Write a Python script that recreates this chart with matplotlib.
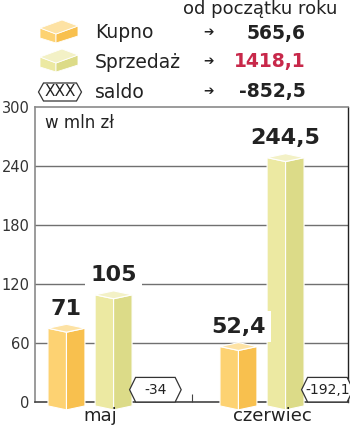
import matplotlib.pyplot as plt
from matplotlib.patches import Polygon

months = ['maj', 'czerwiec']
kupno = [71, 52.4]
sprzedaz = [105, 244.5]
saldo = [-34, -192.1]

ytd_names = ['Kupno', 'Sprzedaż', 'saldo']
ytd_values = [565.6, 1418.1, -852.5]

yticks = [0, 60, 120, 180, 240, 300]

KUPNO_COLS = ('#fdd272', '#f8c04e', '#fde2a4')
SPRZ_COLS = ('#ece9a2', '#dcdb88', '#f3f1c6')


def fmt(v):
    return f'{v:g}'.replace('.', ',')


def box(ax, xc, w, v, cols, d=4, b=-8):
    x0, x1 = xc - w / 2, xc + w / 2
    left = [(x0, b + d), (xc, b), (xc, v), (x0, v + d)]
    right = [(xc, b), (x1, b + d), (x1, v + d), (xc, v)]
    top = [(x0, v + d), (xc, v), (x1, v + d), (xc, v + 2 * d)]
    for pts, c in zip([left, right, top], cols):
        ax.add_patch(Polygon(pts, closed=True, facecolor=c, edgecolor='white',
                             lw=0.8, zorder=3, clip_on=False))


def hexbox(ax, xc, yc, w, h, tip, text, size):
    x0, x1 = xc - w / 2, xc + w / 2
    pts = [(x0, yc), (x0 + tip, yc + h / 2), (x1 - tip, yc + h / 2),
           (x1, yc), (x1 - tip, yc - h / 2), (x0 + tip, yc - h / 2)]
    ax.add_patch(Polygon(pts, closed=True, facecolor='white', edgecolor='#333333',
                         lw=0.9, zorder=5, clip_on=False))
    ax.text(xc, yc, text, ha='center', va='center', fontsize=size,
            color='#222222', zorder=6)


fig = plt.figure(figsize=(3.5, 4.26), dpi=100)
ax = fig.add_axes([35 / 350, 1 - 402 / 426, 313 / 350, 295 / 426])
ax.set_xlim(-0.32, 1.5)
ax.set_ylim(0, 300)

for y in yticks[1:-1]:
    ax.axhline(y, color='#707070', lw=1, zorder=1)

for s in ['left', 'top']:
    ax.spines[s].set_color('#8a8a8a')
    ax.spines[s].set_linewidth(1.2)
ax.spines['bottom'].set_color('#444444')
ax.spines['bottom'].set_linewidth(1.2)
ax.spines['right'].set_color('#222222')
ax.spines['right'].set_linewidth(1.0)

ax.set_yticks(yticks)
ax.set_yticklabels([str(t) for t in yticks], fontsize=10.5, color='#333333')
ax.tick_params(axis='y', length=0, pad=4)
ax.set_xticks([0.59])
ax.set_xticklabels([''])
ax.tick_params(axis='x', direction='in', length=6, color='#444444')

w = 0.215
off = 0.137
lbl_box = dict(boxstyle='square,pad=0.25', facecolor='white', edgecolor='none')
for i in range(len(months)):
    for v, dx, cols in [(kupno[i], -off, KUPNO_COLS), (sprzedaz[i], off, SPRZ_COLS)]:
        box(ax, i + dx, w, v, cols)
        ax.text(i + dx, v + 24, fmt(v), ha='center', va='center', fontsize=16,
                fontweight='bold', color='#222222', bbox=lbl_box, zorder=4)
    hexbox(ax, i + 0.38, 12.5, 0.30, 25, 0.035, fmt(saldo[i]), 10)
    ax.text(i + 0.06, -14, months[i], ha='center', va='center', fontsize=13,
            color='#222222')

ax.text(-0.26, 284, 'w mln zł', ha='left', va='center',
        fontsize=12, color='#222222')

# legend in pixel coordinates
lax = fig.add_axes([0, 0, 1, 1])
lax.set_xlim(0, 350)
lax.set_ylim(426, 0)
lax.axis('off')

lax.text(260, 9, 'od początku roku', ha='center', va='center', fontsize=13,
         color='#222222')

rows = [33, 62, 92]
for name, val, y, cols in zip(ytd_names, ytd_values, rows,
                              [KUPNO_COLS, SPRZ_COLS, None]):
    if cols is not None:
        top = [(40, y - 5), (62, y - 13), (78, y - 7), (56, y + 1)]
        left = [(40, y - 5), (56, y + 1), (56, y + 10), (40, y + 5)]
        right = [(56, y + 1), (78, y - 7), (78, y + 3), (56, y + 10)]
        for pts, c in zip([left, right, top], cols):
            lax.add_patch(Polygon(pts, closed=True, facecolor=c,
                                  edgecolor='white', lw=0.6))
    else:
        hexbox(lax, 60, y, 43, 18, 5, 'XXX', 11)
    lax.text(95, y, name, ha='left', va='center', fontsize=13.5, color='#222222')
    lax.text(209, y, '➔', ha='center', va='center', fontsize=9, color='#222222')
    color = '#c8284a' if name == 'Sprzedaż' else '#222222'
    lax.text(306, y, fmt(val), ha='right', va='center', fontsize=13.5,
             fontweight='bold', color=color)

fig.savefig('out.png', dpi=100)
